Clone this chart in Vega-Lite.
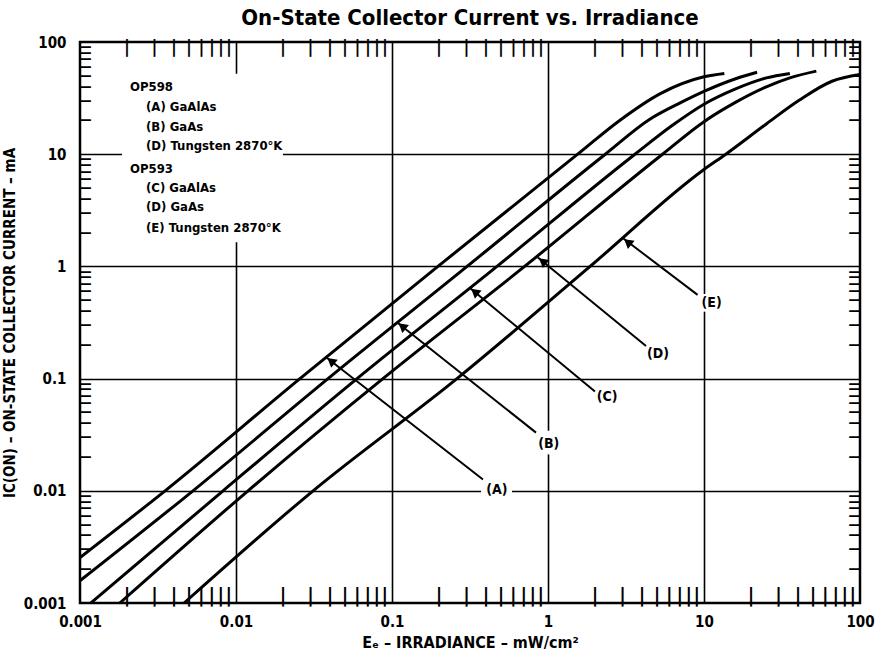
{
  "$schema": "https://vega.github.io/schema/vega-lite/v6.json",
  "width": 780,
  "height": 561,
  "autosize": {"type": "none"},
  "padding": {"left": 80, "top": 42, "right": 15, "bottom": 53},
  "title": {"text": "On-State Collector Current vs. Irradiance", "fontSize": 22, "fontWeight": "bold", "anchor": "middle", "offset": 5, "color": "black"},
  "config": {
    "font": "Liberation Sans Narrow, DejaVu Sans Condensed, Roboto, sans-serif",
    "view": {"stroke": "black", "strokeWidth": 2.5},
    "axis": {"labelColor": "black", "titleColor": "black", "tickColor": "black"}
  },
  "datasets": {
    "curves": [
      {"s": "A", "x": 0.001, "y": 0.00254},
      {"s": "A", "x": 0.00351, "y": 0.01},
      {"s": "A", "x": 0.0257, "y": 0.1},
      {"s": "A", "x": 0.197, "y": 1},
      {"s": "A", "x": 1.55, "y": 10},
      {"s": "A", "x": 2.88, "y": 20},
      {"s": "A", "x": 5.25, "y": 34.7},
      {"s": "A", "x": 10, "y": 49},
      {"s": "A", "x": 13.5, "y": 52.5},
      {"s": "B", "x": 0.001, "y": 0.00158},
      {"s": "B", "x": 0.0053, "y": 0.01},
      {"s": "B", "x": 0.0389, "y": 0.1},
      {"s": "B", "x": 0.303, "y": 1},
      {"s": "B", "x": 2.33, "y": 10},
      {"s": "B", "x": 4.47, "y": 20.4},
      {"s": "B", "x": 7.08, "y": 28.8},
      {"s": "B", "x": 10, "y": 36.3},
      {"s": "B", "x": 15.8, "y": 46.8},
      {"s": "B", "x": 21.9, "y": 53.7},
      {"s": "C", "x": 0.001175, "y": 0.001},
      {"s": "C", "x": 0.00826, "y": 0.01},
      {"s": "C", "x": 0.0597, "y": 0.1},
      {"s": "C", "x": 0.471, "y": 1},
      {"s": "C", "x": 3.61, "y": 10},
      {"s": "C", "x": 6.31, "y": 18.2},
      {"s": "C", "x": 10, "y": 27.9},
      {"s": "C", "x": 15.8, "y": 38},
      {"s": "C", "x": 25.1, "y": 47.9},
      {"s": "C", "x": 35.5, "y": 52.5},
      {"s": "D", "x": 0.0018, "y": 0.001},
      {"s": "D", "x": 0.01194, "y": 0.01},
      {"s": "D", "x": 0.0875, "y": 0.1},
      {"s": "D", "x": 0.708, "y": 1},
      {"s": "D", "x": 5.42, "y": 10},
      {"s": "D", "x": 10, "y": 19.5},
      {"s": "D", "x": 15.8, "y": 28.8},
      {"s": "D", "x": 25.1, "y": 39.8},
      {"s": "D", "x": 35.5, "y": 47.9},
      {"s": "D", "x": 52.5, "y": 55},
      {"s": "E", "x": 0.00465, "y": 0.001},
      {"s": "E", "x": 0.0312, "y": 0.01},
      {"s": "E", "x": 0.261, "y": 0.1},
      {"s": "E", "x": 1.862, "y": 1},
      {"s": "E", "x": 10, "y": 7.31},
      {"s": "E", "x": 13.8, "y": 10},
      {"s": "E", "x": 25.1, "y": 18.6},
      {"s": "E", "x": 40.7, "y": 30.2},
      {"s": "E", "x": 66.1, "y": 44.7},
      {"s": "E", "x": 100, "y": 51.3}
    ],
    "boxes": [
      {"x": 0.00186, "x2": 0.02, "y": 1.64, "y2": 52},
      {"x": 0.372, "x2": 0.588, "y": 0.0085, "y2": 0.0117},
      {"x": 0.863, "x2": 1.19, "y": 0.0211, "y2": 0.0343},
      {"x": 9.16, "x2": 13.4, "y": 0.395, "y2": 0.568}
    ],
    "minor": [
      {"v": 0.002}, {"v": 0.003}, {"v": 0.004}, {"v": 0.005}, {"v": 0.006}, {"v": 0.007}, {"v": 0.008}, {"v": 0.009},
      {"v": 0.02}, {"v": 0.03}, {"v": 0.04}, {"v": 0.05}, {"v": 0.06}, {"v": 0.07}, {"v": 0.08}, {"v": 0.09},
      {"v": 0.2}, {"v": 0.3}, {"v": 0.4}, {"v": 0.5}, {"v": 0.6}, {"v": 0.7}, {"v": 0.8}, {"v": 0.9},
      {"v": 2}, {"v": 3}, {"v": 4}, {"v": 5}, {"v": 6}, {"v": 7}, {"v": 8}, {"v": 9},
      {"v": 20}, {"v": 30}, {"v": 40}, {"v": 50}, {"v": 60}, {"v": 70}, {"v": 80}, {"v": 90}
    ],
    "leaders": [
      {"s": "A", "x": 0.0378, "y": 0.155, "x2": 0.383, "y2": 0.0126},
      {"s": "B", "x": 0.108, "y": 0.316, "x2": 0.838, "y2": 0.033},
      {"s": "C", "x": 0.316, "y": 0.641, "x2": 2.0, "y2": 0.0769},
      {"s": "D", "x": 0.861, "y": 1.2, "x2": 4.25, "y2": 0.195},
      {"s": "E", "x": 3.03, "y": 1.78, "x2": 9.1, "y2": 0.557}
    ],
    "arrows": [
      {"s": "A", "x": 0.0406, "y": 0.1437},
      {"s": "B", "x": 0.1161, "y": 0.2934},
      {"s": "C", "x": 0.3388, "y": 0.595},
      {"s": "D", "x": 0.9226, "y": 1.1135},
      {"s": "E", "x": 3.243, "y": 1.65}
    ],
    "labels": [
      {"t": "(A)", "x": 0.471, "y": 0.0102},
      {"t": "(B)", "x": 1.01, "y": 0.026},
      {"t": "(C)", "x": 2.39, "y": 0.068},
      {"t": "(D)", "x": 5.07, "y": 0.166},
      {"t": "(E)", "x": 11.2, "y": 0.473}
    ],
    "legend": [
      {"t": "OP598", "x": 0.002094, "y": 39.8},
      {"t": "(A) GaAlAs", "x": 0.00265, "y": 26.2},
      {"t": "(B) GaAs", "x": 0.00265, "y": 17.6},
      {"t": "(D) Tungsten 2870°K", "x": 0.00265, "y": 11.8},
      {"t": "OP593", "x": 0.002094, "y": 7.31},
      {"t": "(C) GaAlAs", "x": 0.00265, "y": 5.01},
      {"t": "(D) GaAs", "x": 0.00265, "y": 3.37},
      {"t": "(E) Tungsten 2870°K", "x": 0.00265, "y": 2.21}
    ]
  },
  "resolve": {"axis": {"x": "independent", "y": "independent"}},
  "layer": [
    {
      "data": {"name": "boxes"},
      "mark": {"type": "rect", "color": "white", "opacity": 1},
      "encoding": {
        "x": {"field": "x", "type": "quantitative", "scale": {"type": "log", "domain": [0.001, 100], "nice": false},
          "axis": {"orient": "bottom", "grid": true, "gridColor": "black", "gridWidth": 1.6, "gridOpacity": 1, "values": [0.01, 0.1, 1, 10], "labels": false, "ticks": false, "domain": false, "title": null, "zindex": 0}},
        "x2": {"field": "x2"},
        "y": {"field": "y", "type": "quantitative", "scale": {"type": "log", "domain": [0.001, 100], "nice": false},
          "axis": {"orient": "left", "grid": true, "gridColor": "black", "gridWidth": 1.6, "gridOpacity": 1, "values": [0.01, 0.1, 1, 10], "labels": false, "ticks": false, "domain": false, "title": null, "zindex": 0}},
        "y2": {"field": "y2"}
      }
    },
    {
      "data": {"name": "curves"},
      "mark": {"type": "line", "color": "black", "strokeWidth": 3, "interpolate": "monotone"},
      "encoding": {
        "x": {"field": "x", "type": "quantitative", "scale": {"type": "log", "domain": [0.001, 100], "nice": false},
          "axis": {"orient": "bottom", "values": [0.001, 0.01, 0.1, 1, 10, 100], "labelExpr": "'' + datum.value", "labelFontSize": 15, "labelFontWeight": "bold", "labelPadding": 11, "labelFlush": false, "labelOverlap": false, "ticks": false, "domain": false, "grid": false, "title": "Eₑ  –  IRRADIANCE  –  mW/cm²", "titleFontSize": 16, "titleFontWeight": "bold", "titlePadding": 5, "zindex": 1}},
        "y": {"field": "y", "type": "quantitative", "scale": {"type": "log", "domain": [0.001, 100], "nice": false},
          "axis": {"orient": "left", "values": [0.001, 0.01, 0.1, 1, 10, 100], "labelExpr": "'' + datum.value", "labelFontSize": 15, "labelFontWeight": "bold", "labelPadding": 14, "labelFlush": false, "labelOverlap": false, "ticks": false, "domain": false, "grid": false, "title": "IC(ON) – ON-STATE COLLECTOR CURRENT – mA", "titleFontSize": 15, "titleFontWeight": "bold", "titlePadding": 6, "zindex": 1}},
        "detail": {"field": "s"}
      }
    },
    {
      "data": {"name": "minor"},
      "mark": {"type": "text", "text": "|", "color": "black", "fontSize": 20, "fontWeight": "bold", "align": "center", "baseline": "bottom", "dy": 3},
      "encoding": {
        "x": {"field": "v", "type": "quantitative", "scale": {"type": "log", "domain": [0.001, 100], "nice": false}, "axis": null},
        "y": {"datum": 0.001, "type": "quantitative", "scale": {"type": "log", "domain": [0.001, 100], "nice": false}, "axis": null}
      }
    },
    {
      "data": {"name": "minor"},
      "mark": {"type": "text", "text": "|", "color": "black", "fontSize": 18, "fontWeight": "bold", "align": "center", "baseline": "top", "dy": -3},
      "encoding": {
        "x": {"field": "v", "type": "quantitative", "scale": {"type": "log", "domain": [0.001, 100], "nice": false}, "axis": null},
        "y": {"datum": 100, "type": "quantitative", "scale": {"type": "log", "domain": [0.001, 100], "nice": false}, "axis": null}
      }
    },
    {
      "data": {"name": "minor"},
      "mark": {"type": "text", "text": "—", "color": "black", "fontSize": 14, "fontWeight": "bold", "align": "left", "baseline": "middle", "dx": -1},
      "encoding": {
        "y": {"field": "v", "type": "quantitative", "scale": {"type": "log", "domain": [0.001, 100], "nice": false}, "axis": null},
        "x": {"datum": 0.001, "type": "quantitative", "scale": {"type": "log", "domain": [0.001, 100], "nice": false}, "axis": null}
      }
    },
    {
      "data": {"name": "minor"},
      "mark": {"type": "text", "text": "—", "color": "black", "fontSize": 14, "fontWeight": "bold", "align": "right", "baseline": "middle", "dx": 1},
      "encoding": {
        "y": {"field": "v", "type": "quantitative", "scale": {"type": "log", "domain": [0.001, 100], "nice": false}, "axis": null},
        "x": {"datum": 100, "type": "quantitative", "scale": {"type": "log", "domain": [0.001, 100], "nice": false}, "axis": null}
      }
    },
    {
      "data": {"name": "leaders"},
      "mark": {"type": "rule", "color": "black", "strokeWidth": 2},
      "encoding": {
        "x": {"field": "x", "type": "quantitative", "scale": {"type": "log", "domain": [0.001, 100], "nice": false}, "axis": null},
        "x2": {"field": "x2"},
        "y": {"field": "y", "type": "quantitative", "scale": {"type": "log", "domain": [0.001, 100], "nice": false}, "axis": null},
        "y2": {"field": "y2"}
      }
    },
    {
      "data": {"name": "arrows"},
      "mark": {"type": "point", "shape": "triangle-up", "filled": true, "color": "black", "opacity": 1, "size": 110, "angle": 309},
      "encoding": {
        "x": {"field": "x", "type": "quantitative", "scale": {"type": "log", "domain": [0.001, 100], "nice": false}, "axis": null},
        "y": {"field": "y", "type": "quantitative", "scale": {"type": "log", "domain": [0.001, 100], "nice": false}, "axis": null}
      }
    },
    {
      "data": {"name": "labels"},
      "mark": {"type": "text", "color": "black", "fontSize": 14, "fontWeight": "bold", "align": "center", "baseline": "middle"},
      "encoding": {
        "x": {"field": "x", "type": "quantitative", "scale": {"type": "log", "domain": [0.001, 100], "nice": false}, "axis": null},
        "y": {"field": "y", "type": "quantitative", "scale": {"type": "log", "domain": [0.001, 100], "nice": false}, "axis": null},
        "text": {"field": "t"}
      }
    },
    {
      "data": {"name": "legend"},
      "mark": {"type": "text", "color": "black", "fontSize": 13, "fontWeight": "bold", "align": "left", "baseline": "middle"},
      "encoding": {
        "x": {"field": "x", "type": "quantitative", "scale": {"type": "log", "domain": [0.001, 100], "nice": false}, "axis": null},
        "y": {"field": "y", "type": "quantitative", "scale": {"type": "log", "domain": [0.001, 100], "nice": false}, "axis": null},
        "text": {"field": "t"}
      }
    }
  ]
}
